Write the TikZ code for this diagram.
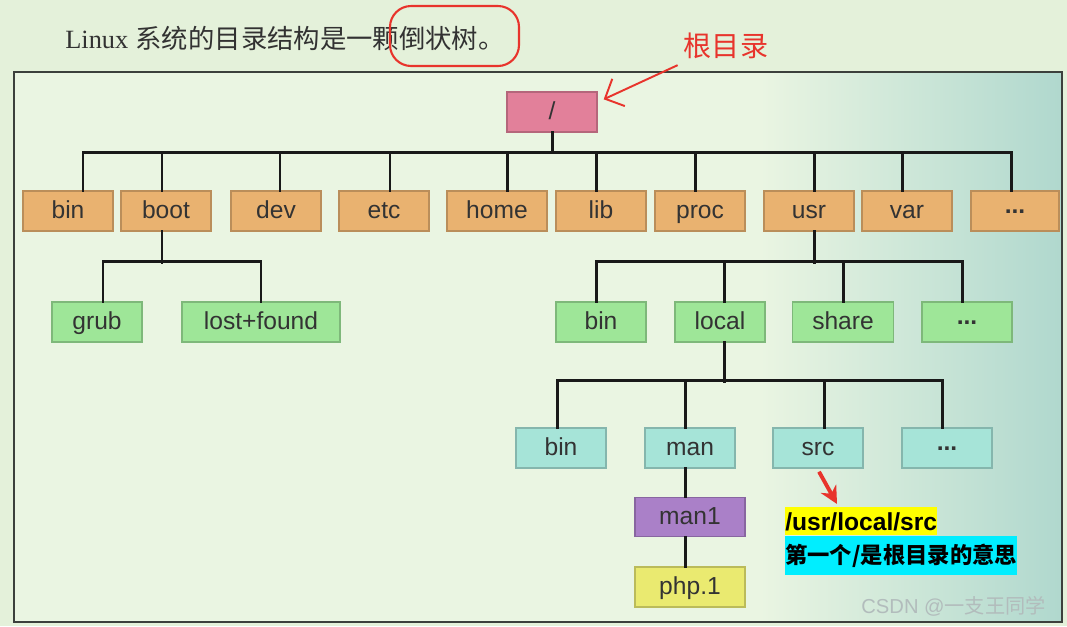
\documentclass[tikz,border=0pt]{standalone}
\usepackage{fontspec}
\setmainfont{Liberation Sans}
\newfontfamily\cjkfont{Noto Sans CJK SC}
\newfontfamily\titlefont{Liberation Serif}
\usepackage{tikz}
\usetikzlibrary{positioning, arrows.meta}
\definecolor{BgGreen}{RGB}{228,241,218}
\definecolor{PanelGreen}{RGB}{234,245,226}
\definecolor{PanelTeal}{RGB}{176,216,206}
\definecolor{FrameGray}{RGB}{60,64,60}
\definecolor{TitleGray}{RGB}{50,50,50}
\definecolor{DirOrange}{RGB}{233,178,112}
\definecolor{DirGreen}{RGB}{158,230,152}
\definecolor{DirCyan}{RGB}{166,228,216}
\definecolor{DirPink}{RGB}{226,128,154}
\definecolor{DirPurple}{RGB}{170,128,200}
\definecolor{DirYellow}{RGB}{234,234,112}
\definecolor{NoteRed}{RGB}{232,52,44}
\definecolor{HiYellow}{RGB}{255,255,0}
\definecolor{HiCyan}{RGB}{0,238,255}
\definecolor{MarkGray}{RGB}{178,188,188}
\newcommand{\moredots}{\raisebox{3pt}{\textbf{...}}}

\begin{document}
\begin{tikzpicture}[x=0.02cm, y=-0.02cm,
            dirbox/.style={rectangle, draw=#1!80!black, fill=#1, line width=0.8pt,
                           minimum width=1.8cm, minimum height=0.8cm, inner sep=0pt,
                           text height=11pt, text depth=2pt,
                           font=\fontsize{14}{16}\selectfont, text=black!80},
            link/.style={draw=black!90, line width=1.7pt, line cap=rect},
            note/.style={rectangle, inner sep=0pt, minimum height=0.56cm, anchor=north west,
                         font=\fontsize{14}{16}\selectfont\bfseries}
          ]
          % background and frame
          \useasboundingbox (0,0) rectangle (1067,626);
          \fill[BgGreen] (0,0) rectangle (1067,626);
          \fill[PanelGreen] (14,72) rectangle (1062,622);
          \shade[left color=PanelGreen, right color=PanelTeal] (760,72) rectangle (1062,622);
          \draw[FrameGray, line width=1.4pt] (14,72) rectangle (1062,622);

          \node[anchor=west, inner sep=0pt, text=TitleGray, font=\fontsize{15}{17}\selectfont]
                (title) at (65,38)
                {{\titlefont Linux} {\cjkfont 系统的目录结构是一颗倒状树。}};
          \draw[NoteRed, line width=1.2pt, rounded corners=12pt] (390,6) rectangle (519,66);

          % root
          \node[dirbox=DirPink] (root) at (552,112) {/};
          \node[text=NoteRed, font=\cjkfont\fontsize{16}{18}\selectfont]
                (rootnote) at (726,46) {根目录};
          \draw[NoteRed, line width=1.1pt, -{Straight Barb[length=3mm, width=6mm]}]
                (rootnote.south west) -- ([shift={(6,8)}]root.north east);

          % first level
          \node[dirbox=DirOrange] (bin1)  at (68,211)   {bin};
          \node[dirbox=DirOrange] (boot)  at (166,211)  {boot};
          \node[dirbox=DirOrange] (dev)   at (276,211)  {dev};
          \node[dirbox=DirOrange] (etc)   at (384,211)  {etc};
          \node[dirbox=DirOrange, minimum width=2cm] (home) at (497,211) {home};
          \node[dirbox=DirOrange] (lib)   at (601,211)  {lib};
          \node[dirbox=DirOrange] (proc)  at (700,211)  {proc};
          \node[dirbox=DirOrange] (usr)   at (809,211)  {usr};
          \node[dirbox=DirOrange] (var)   at (907,211)  {var};
          \node[dirbox=DirOrange, minimum width=1.76cm] (more1) at (1015,211) {\moredots};

          \draw[link] ([xshift=0.30cm]bin1.north) -- ++(0,-38) coordinate (bar1l);
          \draw[link] ([xshift=-0.08cm]more1.north) -- ++(0,-38) coordinate (bar1r);
          \draw[link] (bar1l) -- (bar1r);
          \draw[link] (root.south) -- (root.south |- bar1l);
          \draw[link] ([xshift=-0.08cm]boot.north) -- ++(0,-38);
          \draw[link] ([xshift=0.08cm]dev.north)   -- ++(0,-38);
          \draw[link] ([xshift=0.12cm]etc.north)   -- ++(0,-38);
          \draw[link] ([xshift=0.20cm]home.north)  -- ++(0,-38);
          \draw[link] ([xshift=-0.10cm]lib.north)  -- ++(0,-38);
          \draw[link] ([xshift=-0.10cm]proc.north) -- ++(0,-38);
          \draw[link] ([xshift=0.10cm]usr.north)   -- ++(0,-38);
          \draw[link] ([xshift=-0.10cm]var.north)  -- ++(0,-38);

          % under boot
          \node[dirbox=DirGreen] (grub) at (97,322) {grub};
          \node[dirbox=DirGreen, minimum width=3.16cm] (lost) at (261,322) {lost+found};
          \draw[link] ([xshift=0.12cm]grub.north) -- ++(0,-40) coordinate (bar2l);
          \draw[link] (lost.north) -- ++(0,-40) coordinate (bar2r);
          \draw[link] (bar2l) -- (bar2r);
          \draw[link] ([xshift=-0.08cm]boot.south) -- ++(0,31);

          % under usr
          \node[dirbox=DirGreen] (bin2)  at (601,322) {bin};
          \node[dirbox=DirGreen] (local) at (720,322) {local};
          \node[dirbox=DirGreen, minimum width=2.02cm] (share) at (843,322) {share};
          \node[dirbox=DirGreen] (more2) at (967,322) {\moredots};
          \draw[link] ([xshift=-0.10cm]bin2.north) -- ++(0,-40) coordinate (bar3l);
          \draw[link] ([xshift=-0.10cm]more2.north) -- ++(0,-40) coordinate (bar3r);
          \draw[link] (bar3l) -- (bar3r);
          \draw[link] ([xshift=0.10cm]usr.south) -- ++(0,31);
          \draw[link] ([xshift=0.08cm]local.north) -- ++(0,-40);
          \draw[link] (share.north) -- ++(0,-40);

          % under local
          \node[dirbox=DirCyan] (bin3)  at (561,448) {bin};
          \node[dirbox=DirCyan] (man)   at (690,448) {man};
          \node[dirbox=DirCyan] (src)   at (818,448) {src};
          \node[dirbox=DirCyan] (more3) at (947,448) {\moredots};
          \draw[link] ([xshift=-0.08cm]bin3.north) -- ++(0,-47) coordinate (bar4l);
          \draw[link] ([xshift=-0.10cm]more3.north) -- ++(0,-47) coordinate (bar4r);
          \draw[link] (bar4l) -- (bar4r);
          \draw[link] ([xshift=0.08cm]local.south) -- ++(0,39);
          \draw[link] ([xshift=-0.10cm]man.north) -- ++(0,-47);
          \draw[link] ([xshift=0.12cm]src.north) -- ++(0,-47);

          % under man
          \node[dirbox=DirPurple, minimum width=2.2cm, minimum height=0.78cm] (man1) at (690,517) {man1};
          \node[dirbox=DirYellow, minimum width=2.2cm] (php) at (690,587) {php.1};
          \draw[link] ([xshift=-0.10cm]man.south) -- ([xshift=-0.10cm]man1.north);
          \draw[link] ([xshift=-0.10cm]man1.south) -- ([xshift=-0.10cm]php.north);

          % path note
          \node[note, fill=HiYellow] (path) at (785,507) {/usr/local/src};
          \node[note, fill=HiCyan, minimum height=0.78cm,
                font=\cjkfont\fontsize{12.7}{15}\selectfont\bfseries]
                (meaning) at (path.south west) {第一个/是根目录的意思};
          \draw[NoteRed, line width=2.2pt, -{Stealth[length=3.5mm, width=3.5mm]}]
                ([shift={(1,3)}]src.south) -- ([shift={(52,-3)}]path.north west);

          \node[anchor=east, text=MarkGray, font=\fontsize{11.5}{13}\selectfont]
                (mark) at (1052,606) {CSDN @{\cjkfont 一支王同学}};
        \end{tikzpicture}
\end{document}
